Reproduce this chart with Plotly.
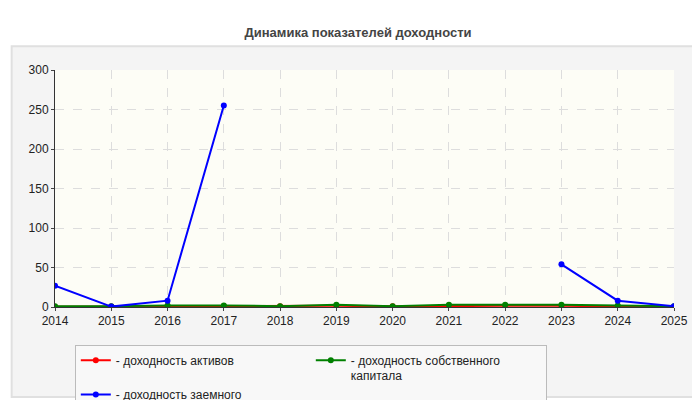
import plotly.graph_objects as go

years = [str(y) for y in range(2014, 2026)]
assets = [0.2, 0.5, 1.0, 1.2, 0.8, 1.5, 0.8, 1.5, 1.5, 1.5, 0.5, 0.3]
equity = [1.0, 1.0, 2.0, 2.0, 1.0, 3.0, 1.0, 3.0, 3.0, 3.0, 2.0, 1.0]
debt = [27, 0.5, 8, 255, None, None, None, None, None, 54, 8, 1]

names = ["- доходность активов", "- доходность собственного<br>капитала", "- доходность заемного<br>капитала"]
colors = ["#ff0000", "#008000", "#0000ff"]

fig = go.Figure()
for vals, n, c in zip([assets, equity, debt], names, colors):
    fig.add_trace(go.Scatter(x=years, y=vals, name=n, mode="lines+markers",
                             line=dict(color=c, width=2), marker=dict(size=6, color=c),
                             connectgaps=False))

fig.update_layout(
    width=700, height=400,
    paper_bgcolor="#ffffff", plot_bgcolor="#fdfdf6",
    font=dict(family="Liberation Sans, Arial", size=12, color="#222"),
    title=dict(text="<b>Динамика показателей доходности</b>", x=0.5, y=0.95, font=dict(size=13, color="#444")),
    margin=dict(l=47, r=34, t=62, b=101, autoexpand=False),
    xaxis=dict(type="category", showgrid=True, gridcolor="#dddddd", griddash="dash",
               showline=True, linecolor="#333", ticks="outside", ticklen=3, range=[0, 11]),
    yaxis=dict(range=[0, 300], dtick=50, showgrid=True, gridcolor="#dddddd", griddash="dash",
               showline=True, linecolor="#333", ticks="outside", ticklen=3, zeroline=False),
    legend=dict(orientation="h", x=0.032, xanchor="left", y=-0.16, yanchor="top",
                bordercolor="#bbbbbb", borderwidth=1, bgcolor="#f8f8f8",
                entrywidth=190, font=dict(size=12), valign="top"),
    shapes=[dict(type="rect", xref="paper", yref="paper", x0=-0.07, x1=1.045, y0=-0.38, y1=1.1,
                 fillcolor="#f4f4f4", line=dict(color="#e0e0e0"), layer="below"),
            dict(type="rect", xref="paper", yref="paper", x0=0, x1=1, y0=0, y1=1,
                 fillcolor="#fdfdf6", line=dict(width=0), layer="below")],
)
fig.write_html("out.html")
